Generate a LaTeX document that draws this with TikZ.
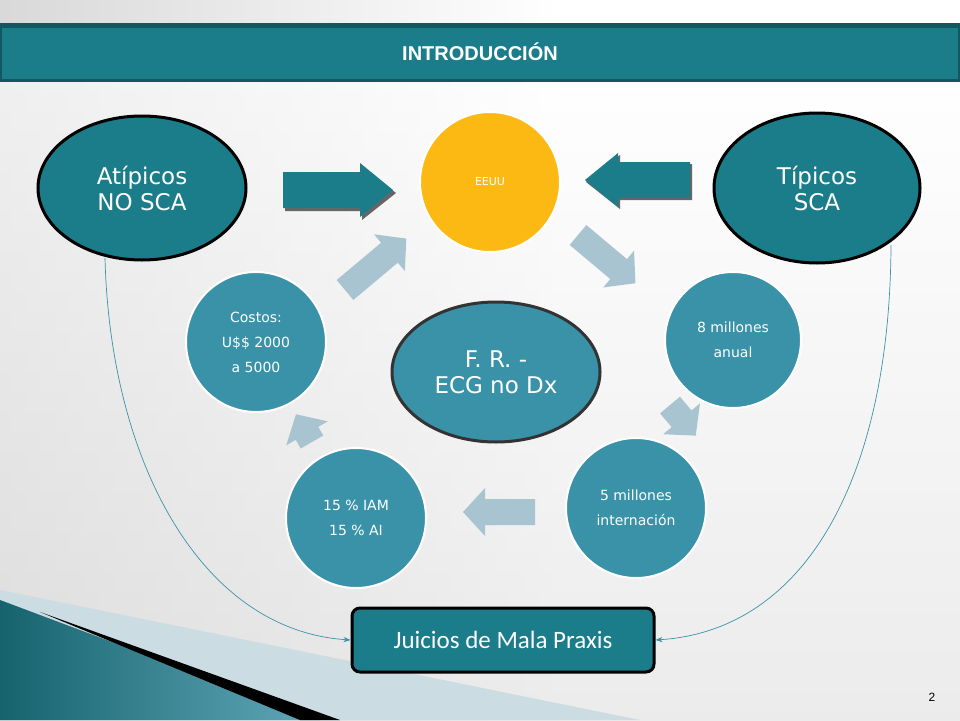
\documentclass[tikz,border=0pt]{standalone}
\usepackage{fontspec}
\setmainfont{Carlito}
\newfontfamily\dv{DejaVu Sans}
\newfontfamily\ls{Liberation Sans}
\usetikzlibrary{arrows.meta,shapes.geometric}
\definecolor{teal1}{HTML}{1B7C8A}
\definecolor{teal2}{HTML}{3A92A8}
\definecolor{pale}{HTML}{A9C4D1}
\definecolor{gold}{HTML}{FDB913}
\tikzset{
  circ/.style={circle,fill=teal2,draw=white,line width=2pt,minimum size=140pt,text=white,align=center,font=\dv\fontsize{14}{25}\selectfont},
  dark/.style={ellipse,fill=teal1,draw=black,line width=3pt,text=white,align=center,font=\dv\fontsize{23}{26}\selectfont},
  conn/.style={draw=teal2,line width=0.7pt,-{Stealth[length=7pt]}},
}
\newcommand{\barrow}[4]{% x y angle length
  \begin{scope}[shift={(#1,#2)},rotate=#3]
  \fill[pale] (0,-13) -- (#4-22,-13) -- (#4-22,-24) -- (#4,0) -- (#4-22,24) -- (#4-22,13) -- (0,13) -- cycle;
  \end{scope}}
\begin{document}
\begin{tikzpicture}[x=1pt,y=-1pt]
\useasboundingbox (0,0) rectangle (960,720);
\fill[white] (0,0) rectangle (960,720);
\shade[left color=gray!30,right color=white] (0,0) rectangle (560,720);
\shade[top color=white,bottom color=gray!25,opacity=0.6] (0,80) rectangle (960,720);
% bottom-left decoration
\fill[pale!60] (0,590) -- (640,720) -- (0,720) -- cycle;
\shade[left color=teal1!80!black,right color=teal2!80] (0,600) -- (40,615) -- (320,720) -- (0,720) -- cycle;
\fill[black] (40,612) -- (340,720) -- (300,720) -- cycle;
% title bar
\fill[teal1!70!black] (0,23) rectangle (960,82);
\fill[teal1] (2,28) rectangle (958,79);
\node[font=\ls\bfseries\fontsize{20}{22}\selectfont,text=white] (title) at (480,52) {INTRODUCCIÓN};
% pale arrows
\barrow{345}{290}{40}{80}
\barrow{578}{235}{-40}{75}
\barrow{670}{405}{-50}{40}
\barrow{535}{512}{180}{72}
\barrow{312}{442}{120}{32}
% circles
\node[circ,fill=gold,font=\dv\fontsize{11}{13}\selectfont] (eeuu) at (490,182) {EEUU};
\node[circ,minimum size=136pt] (ocho) at (733,340) {8 millones\\anual};
\node[circ] (cinco) at (636,508) {5 millones\\internación};
\node[circ] (quince) at (356,518) {15 \% IAM\\15 \% AI};
\node[circ] (costos) at (256,342) {Costos:\\U\$\$ 2000\\a 5000};
\node[dark,fill=teal2,draw=black!80,minimum width=208pt,minimum height=140pt] (fr) at (496,372) {F. R. -\\ECG no Dx};
\node[dark,minimum width=208pt,minimum height=144pt] (atip) at (142,188) {Atípicos\\NO SCA};
\node[dark,minimum width=206pt,minimum height=150pt] (tip) at (817,188) {Típicos\\SCA};
% block arrows
\fill[black!60] (285,175) -- (362,175) -- (362,166) -- (396,193) -- (362,220) -- (362,211) -- (285,211) -- cycle;
\fill[teal1] (283,172) -- (360,172) -- (360,163) -- (393,190) -- (360,217) -- (360,208) -- (283,208) -- cycle;
\fill[black!60] (692,164) -- (620,164) -- (620,155) -- (586,182) -- (620,209) -- (620,200) -- (692,200) -- cycle;
\fill[teal1] (690,162) -- (618,162) -- (618,153) -- (585,180) -- (618,207) -- (618,198) -- (690,198) -- cycle;
% box
\node[draw=black,line width=3pt,fill=teal1,rounded corners=8pt,minimum width=302pt,minimum height=64pt,text=white,font=\fontsize{25}{27}\selectfont] (jui) at (503,640) {Juicios de Mala Praxis};
% connectors
\draw[conn] (105,258) .. controls (110,460) and (200,630) .. (jui.west);
\draw[conn] (891,245) .. controls (890,470) and (810,630) .. (jui.east);
\node[font=\ls\fontsize{12}{14}\selectfont] (pg) at (932,697) {2};
\end{tikzpicture}
\end{document}
